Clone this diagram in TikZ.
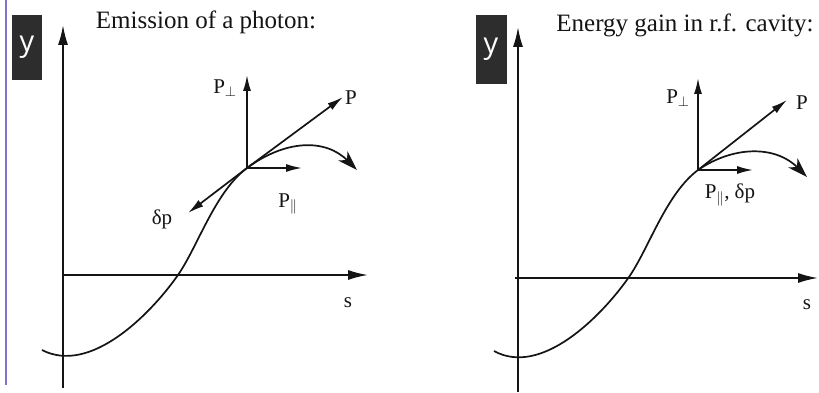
\documentclass[tikz,border=0pt]{standalone}
\usepackage{fontspec}
\setmainfont{Liberation Serif}
\newfontfamily\ysans{Open Sans}
\usetikzlibrary{arrows.meta}
\definecolor{ink}{RGB}{20,20,20}
\definecolor{boxgray}{RGB}{45,45,45}
\definecolor{border}{RGB}{125,115,205}
\begin{document}
\begin{tikzpicture}[x=1pt,y=-1pt,
  ax/.style={line width=1.8pt, draw=ink, -{Latex[length=20pt,width=10pt]}},
  vec/.style={line width=1.7pt, draw=ink, -{Latex[length=16pt,width=8pt]}},
  traj/.style={line width=1.7pt, draw=ink},
  defl/.style={line width=1.7pt, draw=ink, -{Stealth[length=20pt,width=13pt,inset=6pt]}},
  ybox/.style={fill=boxgray, text=white, minimum width=30pt, minimum height=65pt, inner sep=0pt, font=\ysans\fontsize{29}{29}\selectfont},
  ttl/.style={font=\fontsize{25}{29}\selectfont, text=ink, inner sep=0pt},
  lbl/.style={font=\fontsize{21}{25}\selectfont, text=ink, inner sep=0pt},
]
\useasboundingbox[fill=white] (0,0) rectangle (819,393);
\draw[draw=border, line width=1.5pt] (6,0) -- (6,385);

% ---------- left panel ----------
\coordinate (y1b) at (63,388);
\coordinate (y1t) at (63,25);
\draw[ax] (y1b) -- (y1t);
\coordinate (s1l) at (62,275);
\coordinate (s1r) at (368,275);
\draw[ax] (s1l) -- (s1r);
\node[ybox] (yb1) at (27,47.5) {y};
\node[ttl] (t1) at (206,22) {Emission of a photon:};
\node[lbl] (s1) at (348,303) {s};
\coordinate (O1) at (247,168);
\draw[traj] (42,350) .. controls (90,375) and (150,315) .. (178,275)
            .. controls (198,246) and (215,192) .. (O1);
\coordinate (e1) at (357,170);
\draw[defl] (O1) .. controls (285,140) and (325,138) .. (e1);
\coordinate (pp1) at (247,75);
\coordinate (p1) at (343,97);
\coordinate (pl1) at (302,168);
\coordinate (dp1) at (188,213);
\draw[vec] (O1) -- (pp1);
\draw[vec] (O1) -- (p1);
\draw[vec] (O1) -- (pl1);
\draw[vec] (O1) -- (dp1);
\node[lbl] (lpp1) at (225,88) {P$_{\perp}$};
\node[lbl] (lp1) at (351,98) {P};
\node[lbl] (lpl1) at (288,204) {P$_{\|}$};
\node[lbl] (ldp1) at (162,219) {δp};

% ---------- right panel ----------
\coordinate (y2b) at (518,392);
\coordinate (y2t) at (518,27);
\draw[ax] (y2b) -- (y2t);
\coordinate (s2l) at (515,278);
\coordinate (s2r) at (818,278);
\draw[ax] (s2l) -- (s2r);
\node[ybox, minimum width=31pt, minimum height=69pt] (yb2) at (491,49.5) {y};
\node[ttl] (t2) at (685,25) {Energy gain in r.f. cavity:};
\node[lbl] (s2) at (807,305) {s};
\coordinate (O2) at (698,170);
\draw[traj] (494,351) .. controls (541,377) and (601,317) .. (629,277)
            .. controls (649,248) and (666,194) .. (O2);
\coordinate (e2) at (807,177);
\draw[defl] (O2) .. controls (733,146) and (775,145) .. (e2);
\coordinate (pp2) at (698,78);
\coordinate (p2) at (787,100);
\coordinate (pl2) at (753,170);
\draw[vec] (O2) -- (pp2);
\draw[vec] (O2) -- (p2);
\draw[vec] (O2) -- (pl2);
\node[lbl] (lpp2) at (678,98) {P$_{\perp}$};
\node[lbl] (lp2) at (802,103) {P};
\node[lbl] (lpl2) at (730,195) {P$_{\|}$, δp};
\end{tikzpicture}
\end{document}
